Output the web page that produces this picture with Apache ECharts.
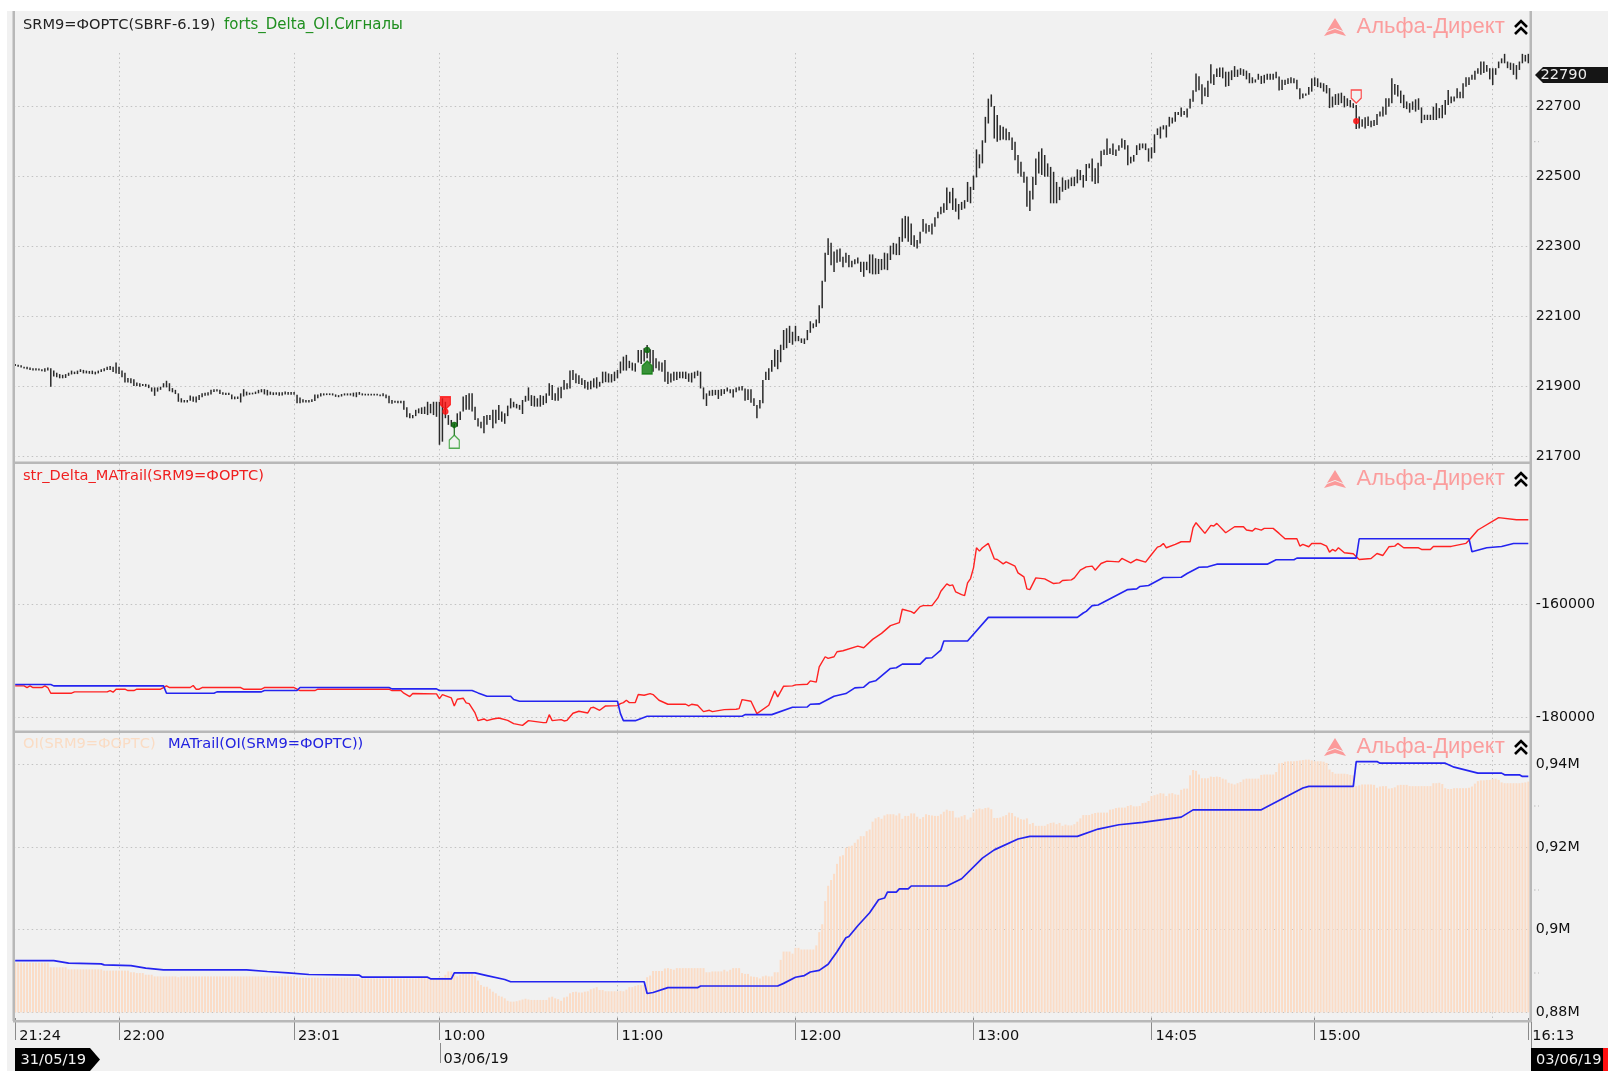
<!DOCTYPE html>
<html><head><meta charset="utf-8">
<script src="https://cdn.jsdelivr.net/npm/echarts@6/dist/echarts.min.js"></script>
<style>html,body{margin:0;padding:0;background:#f1f1f1}#c{width:1608px;height:1071px}</style>
</head><body><div id="c"></div>
<script>
const tickIndex=[0,35,94,143,203,263,323,383,438,510];
const tickLabels=['21:24','22:00','23:01','10:00\n03/06/19','11:00','12:00','13:00','14:05','15:00','16:13'];
const gridIndex=[35,94,143,203,263,323,383,438,498];
const priceTicks=[21700,21900,22100,22300,22500,22700];
const deltaTicks=[-180000,-160000];
const oiTicks=[0.88,0.9,0.92,0.94];
const priceHigh=[
21965,21963,21961,21957,21957,21955,21953,21953,21952,21950,
21953,21955,21953,21946,21940,21936,21934,21936,21940,21946,
21943,21946,21950,21948,21946,21945,21946,21943,21946,21950,
21953,21957,21959,21957,21969,21957,21946,21940,21925,21924,
21921,21912,21910,21908,21908,21906,21898,21898,21898,21900,
21910,21917,21910,21896,21891,21881,21867,21862,21862,21875,
21872,21872,21876,21881,21883,21884,21891,21893,21893,21891,
21884,21883,21883,21878,21872,21872,21881,21893,21886,21883,
21883,21886,21891,21893,21893,21891,21886,21884,21884,21884,
21884,21886,21885,21885,21885,21877,21869,21864,21862,21862,
21864,21878,21878,21881,21881,21881,21881,21881,21878,21876,
21879,21881,21881,21881,21883,21884,21885,21881,21880,21880,
21880,21880,21880,21878,21881,21878,21874,21862,21860,21860,
21860,21860,21841,21824,21819,21834,21838,21841,21843,21857,
21851,21857,21857,21857,21867,21857,21819,21805,21795,21824,
21829,21872,21876,21881,21881,21843,21810,21800,21816,21819,
21819,21834,21834,21848,21829,21824,21846,21867,21857,21851,
21848,21862,21874,21898,21876,21874,21867,21876,21874,21881,
21910,21905,21881,21898,21900,21919,21910,21946,21948,21938,
21933,21924,21919,21914,21917,21924,21927,21914,21943,21943,
21938,21936,21943,21948,21972,21986,21991,21974,21969,21967,
22005,22005,22010,22019,22007,22005,21981,21972,21969,21976,
21943,21938,21943,21943,21943,21943,21943,21938,21940,21943,
21946,21943,21898,21881,21889,21891,21891,21891,21893,21893,
21898,21893,21893,21898,21900,21902,21895,21893,21893,21867,
21848,21862,21919,21943,21953,21976,22007,22005,22020,22062,
22067,22074,22057,22074,22045,22038,22038,22062,22087,22081,
22092,22133,22203,22283,22324,22311,22286,22292,22295,22271,
22283,22276,22260,22264,22269,22257,22257,22257,22278,22278,
22267,22265,22265,22283,22281,22303,22311,22309,22328,22381,
22388,22386,22366,22333,22319,22343,22379,22366,22362,22366,
22384,22400,22414,22424,22469,22457,22468,22438,22422,22428,
22433,22485,22471,22503,22578,22564,22604,22671,22723,22735,
22702,22676,22647,22643,22638,22628,22612,22600,22562,22543,
22514,22500,22460,22500,22552,22571,22581,22562,22538,22528,
22514,22485,22471,22498,22490,22492,22498,22500,22521,22519,
22505,22536,22538,22552,22524,22540,22574,22578,22609,22581,
22595,22578,22590,22609,22605,22590,22557,22562,22590,22595,
22595,22595,22581,22584,22621,22638,22643,22647,22647,22671,
22669,22685,22685,22698,22688,22695,22723,22747,22795,22787,
22764,22755,22774,22821,22793,22809,22812,22812,22800,22800,
22804,22816,22806,22810,22807,22803,22796,22784,22778,22794,
22788,22791,22794,22794,22794,22800,22786,22777,22777,22781,
22784,22781,22777,22753,22738,22738,22756,22781,22784,22781,
22769,22767,22762,22753,22729,22736,22738,22740,22731,22724,
22719,22710,22705,22672,22664,22670,22672,22660,22662,22679,
22686,22700,22724,22724,22781,22765,22762,22746,22734,22715,
22710,22715,22721,22724,22698,22677,22677,22677,22700,22710,
22696,22705,22719,22748,22729,22729,22753,22743,22767,22784,
22784,22791,22803,22810,22829,22829,22819,22810,22810,22810,
22829,22838,22851,22829,22826,22824,22819,22829,22851,22848,22851];
const priceLow=[
21959,21957,21955,21952,21950,21948,21946,21946,21946,21944,
21943,21946,21900,21929,21927,21924,21924,21925,21931,21935,
21936,21936,21942,21938,21938,21937,21936,21935,21938,21942,
21944,21948,21948,21942,21938,21936,21927,21912,21912,21910,
21902,21902,21900,21902,21900,21896,21886,21874,21886,21891,
21898,21898,21887,21884,21879,21857,21855,21855,21855,21860,
21857,21855,21862,21870,21874,21875,21878,21885,21886,21879,
21877,21876,21876,21864,21864,21865,21855,21872,21875,21877,
21878,21879,21881,21884,21878,21875,21877,21876,21877,21874,
21875,21878,21877,21877,21877,21853,21853,21855,21855,21855,
21856,21859,21867,21872,21875,21876,21876,21875,21871,21870,
21872,21875,21875,21875,21872,21870,21877,21875,21875,21875,
21875,21875,21875,21873,21873,21867,21853,21851,21854,21853,
21853,21834,21813,21810,21810,21816,21824,21822,21822,21819,
21824,21819,21814,21734,21743,21810,21791,21786,21781,21786,
21805,21829,21834,21834,21829,21805,21786,21781,21767,21791,
21805,21781,21795,21805,21800,21794,21816,21838,21841,21838,
21834,21822,21857,21860,21845,21843,21843,21843,21848,21853,
21874,21862,21860,21860,21867,21891,21893,21895,21919,21910,
21908,21905,21895,21891,21893,21898,21895,21900,21910,21913,
21912,21912,21916,21924,21938,21946,21946,21953,21946,21943,
21969,21965,21972,21981,21967,21943,21953,21946,21943,21914,
21908,21912,21917,21919,21924,21924,21922,21914,21912,21924,
21931,21895,21864,21845,21874,21874,21876,21865,21874,21879,
21886,21881,21869,21884,21889,21889,21860,21862,21854,21845,
21810,21838,21853,21919,21919,21943,21957,21950,21970,22005,
22010,22025,22020,22030,22030,22025,22022,22033,22054,22067,
22071,22081,22124,22200,22276,22247,22228,22254,22257,22241,
22254,22241,22241,22250,22252,22228,22214,22233,22224,22221,
22221,22222,22233,22235,22233,22262,22278,22276,22276,22314,
22324,22314,22305,22300,22295,22309,22343,22338,22343,22335,
22357,22381,22393,22397,22405,22424,22405,22400,22378,22405,
22409,22428,22424,22462,22498,22524,22538,22597,22652,22700,
22609,22600,22604,22606,22604,22604,22576,22547,22509,22500,
22483,22414,22402,22435,22476,22509,22505,22500,22500,22424,
22424,22424,22433,22457,22462,22466,22473,22473,22481,22490,
22469,22488,22524,22486,22479,22481,22530,22562,22562,22565,
22562,22559,22574,22583,22578,22533,22538,22543,22562,22576,
22581,22576,22543,22552,22568,22619,22609,22635,22612,22643,
22652,22657,22676,22671,22676,22669,22695,22714,22743,22747,
22707,22730,22728,22766,22762,22785,22785,22781,22757,22759,
22776,22785,22785,22791,22788,22778,22767,22767,22769,22777,
22765,22767,22777,22777,22777,22781,22746,22748,22762,22765,
22767,22767,22750,22721,22724,22731,22734,22743,22759,22756,
22753,22743,22738,22696,22698,22705,22705,22710,22698,22702,
22698,22696,22636,22638,22643,22638,22645,22641,22645,22648,
22672,22672,22677,22700,22710,22734,22729,22710,22696,22693,
22683,22691,22686,22691,22653,22662,22662,22662,22662,22662,
22667,22667,22677,22705,22710,22715,22724,22724,22724,22757,
22762,22777,22777,22794,22791,22796,22800,22778,22762,22791,
22810,22824,22824,22810,22805,22791,22778,22805,22824,22829,22824];
const openInterest=[
.892,.892,.892,.892,.892,.892,.892,.892,.892,.892,
.892,.892,.8909,.8909,.8909,.8909,.8909,.8909,.8904,.8904,
.8904,.8904,.8904,.8904,.8904,.8904,.8904,.8904,.8904,.8904,
.8901,.8901,.8901,.8901,.8901,.8901,.8901,.8901,.8901,.8897,
.8897,.8895,.8895,.8895,.8891,.8891,.8891,.8887,.8887,.8887,
.8887,.8887,.8887,.8887,.8887,.8885,.8887,.8887,.8887,.8887,
.8887,.8887,.8887,.8887,.8887,.8887,.8887,.8887,.8887,.8887,
.8887,.8887,.8887,.8887,.8887,.8887,.8887,.8887,.8887,.8887,
.8887,.8887,.8887,.8887,.8887,.8887,.8887,.8887,.8887,.8887,
.8887,.8887,.8887,.8887,.8887,.8884,.8884,.8884,.8884,.8884,
.8884,.8884,.8884,.8884,.8884,.8884,.8884,.8884,.8884,.8884,
.8884,.8884,.8884,.8884,.8884,.8884,.8882,.8882,.8882,.8882,
.8882,.8882,.8882,.8882,.8882,.8882,.8882,.8882,.8882,.8882,
.8882,.8882,.8882,.8882,.8882,.8882,.8883,.8883,.8883,.8883,
.8883,.8883,.8883,.8885,.8885,.8891,.8899,.8899,.8891,.8887,
.8891,.8893,.8893,.8893,.8893,.8888,.8877,.8866,.8862,.8862,
.8857,.885,.8846,.884,.8838,.8834,.8828,.8826,.8826,.8827,
.8829,.8831,.8833,.8831,.883,.883,.883,.883,.883,.883,
.8836,.8838,.8834,.8832,.8828,.8836,.8838,.8846,.8849,.885,
.8848,.8848,.885,.8851,.8856,.8858,.8861,.8854,.8854,.8851,
.8851,.8851,.8851,.8851,.8852,.8851,.8855,.8861,.8861,.8864,
.8866,.8866,.8866,.8885,.8889,.89,.89,.89,.89,.8906,
.8907,.8905,.8903,.8907,.8907,.8907,.8907,.8907,.8907,.8907,
.8907,.8907,.8907,.8897,.8897,.8899,.8899,.8899,.8899,.8903,
.8899,.8903,.8907,.8907,.8907,.8895,.8893,.8893,.8887,.8886,
.8885,.8882,.8887,.8889,.8887,.8887,.8897,.8897,.8927,.8947,
.8947,.8947,.8942,.8956,.8956,.8952,.8952,.8952,.8952,.8952,
.8962,.8994,.9013,.9069,.9106,.912,.9135,.9159,.9177,.918,
.9198,.9201,.9203,.921,.9218,.9226,.9226,.9238,.9242,.9261,
.9269,.9272,.9268,.9276,.9279,.9279,.9279,.9276,.9281,.9268,
.9275,.9275,.9281,.9281,.9273,.9268,.9272,.9279,.9277,.9276,
.9275,.9275,.9279,.9285,.929,.9287,.9287,.9271,.9271,.9274,
.9277,.9266,.9271,.9283,.9291,.9293,.9291,.9294,.9295,.9291,
.927,.927,.9271,.9274,.9277,.9283,.9282,.9274,.9271,.9267,
.9266,.9269,.9255,.9258,.9251,.9251,.9251,.9251,.9255,.9258,
.9259,.9255,.9258,.9251,.9254,.9252,.9252,.9255,.9261,.9269,
.9277,.9277,.9277,.928,.9282,.9283,.9283,.9283,.9283,.929,
.9291,.9294,.9295,.9295,.9295,.9299,.9301,.9298,.9298,.9299,
.9306,.9307,.9311,.9323,.9325,.9327,.933,.9329,.9323,.9329,
.933,.9327,.9326,.9338,.9341,.9341,.9373,.9386,.9384,.9375,
.9366,.9366,.9366,.937,.9369,.937,.9369,.9365,.9363,.9355,
.9353,.9351,.9354,.9357,.9363,.9365,.9365,.9365,.9365,.9365,
.9374,.9375,.9375,.9375,.9375,.9381,.9402,.9403,.9406,.9407,
.9407,.9407,.9408,.9409,.941,.9411,.9411,.9409,.9407,.9407,
.9407,.9406,.9403,.9387,.9381,.9377,.9377,.9377,.9377,.9376,
.9374,.9373,.9347,.9349,.9351,.9351,.9351,.9351,.935,.9343,
.9346,.9347,.9347,.9341,.9342,.9344,.9349,.935,.935,.935,
.9347,.9347,.9347,.9347,.9347,.9347,.9347,.9347,.9354,.9354,
.9355,.9352,.9342,.934,.934,.9342,.9342,.9342,.9342,.9342,
.9343,.9346,.9353,.9359,.9361,.9361,.9362,.9362,.9364,.9365,
.9362,.9356,.9354,.9354,.9354,.9354,.9354,.9354,.9355,.9356,.9358];
const deltaLine=[[0,-174435],[3,-174435],[4,-174731],[5,-174435],[6,-174731],[9,-174731],[10,-174435],[11,-174731],[12,-175738],[19,-175738],[20,-175501],[31,-175501],[32,-175264],[33,-175560],[34,-175027],[37,-175027],[38,-175264],[40,-175264],[41,-175027],[49,-175027],[50,-174731],[51,-174435],[52,-174731],[59,-174731],[60,-174376],[61,-175027],[62,-175027],[63,-174731],[76,-174731],[77,-175027],[83,-175027],[84,-174731],[94,-174731],[96,-175264],[101,-175264],[102,-175027],[126,-175027],[127,-175264],[130,-175264],[131,-175738],[133,-176330],[134,-175797],[142,-175856],[143,-176685],[144,-175974],[147,-176566],[148,-177987],[149,-176803],[151,-176626],[152,-177454],[153,-177573],[155,-179230],[156,-180592],[158,-180296],[159,-180592],[161,-180296],[163,-180118],[166,-180533],[168,-181125],[171,-181421],[173,-180592],[178,-180947],[179,-180947],[180,-179526],[181,-180592],[184,-180414],[185,-180651],[186,-180533],[188,-179290],[190,-178934],[193,-179230],[194,-178342],[195,-178224],[197,-178757],[199,-177987],[203,-177928],[204,-177573],[205,-177395],[206,-176981],[207,-177395],[209,-177395],[210,-175974],[212,-176093],[214,-175797],[215,-175974],[217,-176981],[220,-177691],[226,-177691],[227,-177987],[228,-177691],[230,-177869],[232,-178994],[234,-178757],[235,-178994],[239,-178638],[243,-178579],[244,-178461],[245,-176862],[248,-177158],[250,-179349],[254,-177869],[256,-175323],[257,-176389],[259,-174494],[262,-174435],[263,-174258],[267,-174139],[268,-173547],[270,-173784],[271,-171061],[273,-169285],[274,-169581],[276,-169285],[277,-168397],[279,-168219],[284,-167390],[286,-167686],[289,-166206],[292,-165141],[295,-163779],[298,-163246],[299,-160878],[302,-161293],[303,-161589],[305,-160405],[306,-160237],[309,-160237],[311,-158875],[312,-157691],[314,-156389],[315,-156685],[316,-156566],[317,-157810],[319,-158283],[320,-158461],[321,-156211],[322,-155442],[323,-153547],[324,-149995],[325,-150587],[326,-149995],[328,-149226],[330,-151949],[331,-152067],[333,-152837],[334,-152482],[337,-153251],[338,-154435],[340,-155146],[341,-157277],[342,-157395],[344,-155323],[347,-155501],[350,-156330],[352,-156211],[353,-155797],[356,-155678],[357,-155323],[359,-153962],[361,-153370],[363,-153251],[364,-153962],[366,-152778],[368,-152363],[372,-152482],[373,-151890],[376,-152659],[378,-152067],[381,-152541],[383,-151180],[385,-149877],[386,-149700],[387,-149226],[388,-149995],[391,-149403],[393,-148930],[396,-148930],[397,-146443],[398,-145555],[401,-147450],[403,-146029],[404,-146147],[405,-145674],[408,-147331],[411,-146266],[414,-146266],[415,-146858],[417,-147035],[418,-146562],[420,-146858],[421,-146562],[424,-146562],[426,-147450],[428,-148397],[432,-148397],[433,-149700],[434,-149403],[436,-149818],[437,-149226],[440,-149226],[442,-149700],[443,-150765],[444,-150292],[445,-150587],[446,-149995],[448,-150883],[451,-151061],[453,-152067],[457,-151890],[459,-151002],[461,-151357],[463,-149818],[465,-149700],[466,-149226],[468,-149995],[473,-149995],[474,-150292],[477,-150292],[478,-149758],[484,-149758],[489,-149210],[490,-148658],[493,-146850],[500,-144666],[506,-145037],[510,-145037]];
const deltaTrail=[[0,-174198],[12,-174198],[13,-174435],[50,-174435],[51,-175738],[67,-175738],[68,-175501],[83,-175501],[84,-175264],[95,-175264],[96,-174731],[126,-174731],[127,-174968],[142,-174968],[143,-175264],[154,-175264],[156,-175678],[159,-176270],[167,-176270],[168,-176862],[170,-177158],[203,-177158],[204,-179349],[205,-180592],[209,-180592],[213,-179822],[245,-179822],[246,-179526],[255,-179526],[262,-178224],[267,-178165],[268,-177691],[271,-177632],[276,-176270],[280,-175797],[283,-174790],[286,-174672],[288,-173784],[290,-173547],[295,-171357],[297,-171238],[299,-170587],[305,-170587],[307,-169522],[309,-169462],[312,-168101],[313,-166500],[321,-166500],[328,-162309],[358,-162309],[360,-161539],[361,-161243],[363,-160237],[365,-160118],[375,-157395],[378,-157277],[379,-156862],[382,-156685],[387,-155264],[393,-155205],[395,-154554],[399,-153429],[402,-153370],[405,-152896],[422,-152896],[425,-152126],[431,-152126],[432,-151830],[452,-151830],[453,-148397],[490,-148397],[491,-150700],[496,-150000],[501,-149758],[505,-149240],[510,-149240]];
const oiTrail=[[0,.89253],[13,.89253],[18,.89189],[29,.89172],[30,.89148],[39,.89132],[44,.89068],[50,.89028],[78,.89028],[85,.88988],[92,.88956],[99,.88916],[116,.88899],[117,.88851],[139,.88851],[140,.88811],[147,.88811],[148,.88953],[155,.88953],[159,.8889],[165,.88795],[167,.8874],[212,.8874],[213,.88457],[215,.8848],[220,.88598],[230,.88598],[231,.88638],[257,.88638],[259,.88701],[263,.8885],[266,.8889],[268,.88976],[271,.89016],[274,.89165],[277,.89465],[280,.89803],[281,.89835],[284,.90095],[288,.90409],[291,.90724],[293,.90764],[294,.90906],[297,.90906],[298,.90984],[301,.90984],[302,.91055],[314,.91055],[319,.9123],[326,.91728],[330,.91928],[338,.92192],[342,.92256],[358,.92256],[365,.92432],[372,.92536],[380,.92592],[393,.9272],[397,.92896],[420,.92896],[434,.93424],[436,.93464],[451,.93464],[452,.94064],[459,.94064],[460,.94024],[482,.94024],[485,.93928],[493,.93784],[501,.93784],[502,.93744],[507,.93744],[508,.93704],[510,.93704]];
const sellSignal=[[145,21853]];
const sellOpen=[[452,22729]];
const buyFilled=[[213,21955]];
const buyOpen=[[148,21743]];
const redDots=[[145,21829],[452,22659]];
const greenDots=[[148,21791],[213,22005]];
const buyStem=[[148,21791],[148,21760]];
const lastPrice=22790;

const N=priceHigh.length;
const FONT='"DejaVu Sans"';
const categories=priceHigh.map((_,i)=>String(i));
const isTick=i=>tickIndex.includes(i);
const isGrid=i=>gridIndex.includes(i);
const dot={color:'#c2c2c2',type:[1.5,3],width:1};
const gridPos=[{top:53,height:409},{top:464,height:267},{top:733,height:288}];
const grids=gridPos.map(g=>({left:13.7,width:1516.1,top:g.top,height:g.height,containLabel:false}));
const xAxes=[0,1,2].map(k=>({type:'category',gridIndex:k,data:categories,boundaryGap:true,
  axisLine:{show:false},
  axisTick:{show:k===2,length:22,alignWithLabel:true,interval:(i)=>isTick(i),lineStyle:{color:'#8a8a8a'}},
  splitLine:{show:true,alignWithLabel:true,interval:(i)=>isGrid(i),lineStyle:dot},
  axisLabel:{show:k===2,interval:(i)=>isTick(i),align:'left',verticalAlign:'top',margin:7,padding:[0,0,0,4],
    lineHeight:23,color:'#111',fontFamily:FONT,fontSize:14.5,
    formatter:(v,i)=>{const p=tickIndex.indexOf(+v);return p<0?'':tickLabels[p];}}}));
const yAxis=(k,min,max,ticks,fmt,pad)=>({type:'value',gridIndex:k,position:'right',min,max,scale:true,
  axisLine:{show:false},axisTick:{show:false,customValues:ticks},
  splitLine:{show:true,lineStyle:dot},
  axisLabel:{customValues:ticks,margin:6,padding:[pad,0,0,0],color:'#111',fontFamily:FONT,fontSize:14.2,formatter:fmt,showMinLabel:true,showMaxLabel:true}});
const renderHL=(p,api)=>{const a=api.coord([api.value(0),api.value(1)]),b=api.coord([api.value(0),api.value(2)]);
  return {type:'line',shape:{x1:a[0],y1:a[1],x2:b[0],y2:b[1]},style:{stroke:'#2a2a2a',lineWidth:1.5}};};
const renderOI=(p,api)=>{const a=api.coord([api.value(0),api.value(1)]),b=api.coord([api.value(0),oiTicks[0]]);
  return {type:'rect',shape:{x:a[0]-1,y:a[1],width:2,height:b[1]-a[1]},style:{fill:'#fbdcc6'}};};
const house='path://M5,0 L10,5 L10,13 L0,13 L0,5 Z';
const shield='path://M0,0 L10,0 L10,8 L5,13 L0,8 Z';
const mark=(d,sym,fill,stroke)=>({type:'scatter',xAxisIndex:0,yAxisIndex:0,data:d,symbol:sym,symbolSize:sym==='circle'?5:[10,13],
  itemStyle:{color:fill,borderColor:stroke,borderWidth:1.3},z:6,silent:true});
const line=(d,c,k,w)=>({type:'line',xAxisIndex:k,yAxisIndex:k,data:d,showSymbol:false,lineStyle:{color:c,width:w},itemStyle:{color:c},z:5,silent:true});

const gfx=[];
const rect=(x,y,w,h,fill,z)=>gfx.push({type:'rect',shape:{x,y,width:w,height:h},style:{fill},z:z||20,silent:true});
const text=(x,y,t,fill,font)=>gfx.push({type:'text',x,y,style:{text:t,fill,font:font||('14.6px '+FONT),textVerticalAlign:'middle',textAlign:'left'},z:30,silent:true});
const poly=(pts,fill)=>gfx.push({type:'polygon',shape:{points:pts},style:{fill},z:25,silent:true});
const pl=(pts,stroke,w)=>gfx.push({type:'polyline',shape:{points:pts},style:{stroke,lineWidth:w,fill:null},z:25,silent:true});
rect(0,0,1608,11,'#ffffff',1);rect(0,0,7,1071,'#ffffff',1);
const AX='#b8b8b8';
rect(12.5,11,2.5,1010,AX);rect(1529.5,11,2.5,1011,AX);
rect(13,461.5,1518,2.5,AX);rect(13,730.5,1518,2.5,AX);rect(13,1020,1518,2.5,AX);
[0,452,720].forEach(d=>{
  poly([[1335,18+d],[1343,31+d],[1335,28+d],[1327,31+d]],'#fb9a9a');
  poly([[1324,36+d],[1327,32+d],[1335,29+d],[1343,32+d],[1346,36+d],[1335,33+d]],'#fb9a9a');
  text(1356.5,27+d,'Альфа-Директ','#fb9d9d','22px "Liberation Sans"');
  pl([[1515,27+d],[1521,21+d],[1527,27+d]],'#000',2.6);
  pl([[1515,34+d],[1521,28+d],[1527,34+d]],'#000',2.6);
});
text(23,25,'SRM9=ФОРТС(SBRF-6.19)','#222');
text(224,25,'forts_Delta_OI.Сигналы','#1f8f1f','15px '+FONT);
text(23,476,'str_Delta_MATrail(SRM9=ФОРТС)','#f02020');
text(23,744,'OI(SRM9=ФОРТС)','#fadcc4');
text(168,744,'MATrail(OI(SRM9=ФОРТС))','#2222e0');
poly([[1535,75],[1543,67],[1608,67],[1608,83],[1543,83]],'#151515');
text(1540.5,75.5,String(lastPrice),'#eeeeee');
poly([[15,1048],[90,1048],[100,1059.5],[90,1071],[15,1071]],'#000');
text(20.5,1060,'31/05/19','#f2f2f2');
rect(1531,1048,72,23,'#000');rect(1603,1048,5,23,'#ff1010');
text(1536,1060,'03/06/19','#f2f2f2');
rect(1531,1022,1,26,'#8a8a8a');
rect(440,1043,1,20,'#8a8a8a');
[141.7,806,890,973].forEach(y=>gfx.push({type:'line',shape:{x1:1534,y1:y,x2:1539,y2:y},style:{stroke:'#bbb',lineDash:[1.5,2.5]},z:20,silent:true}));

const chart=echarts.init(document.getElementById('c'),null,{renderer:'canvas'});
chart.setOption({
  animation:false,backgroundColor:'#f1f1f1',
  grid:grids,xAxis:xAxes,
  yAxis:[
    yAxis(0,21684.9,22853.4,priceTicks,v=>String(v),2),
    yAxis(1,-182425,-135167,deltaTicks,v=>String(v),2),
    yAxis(2,0.87864,0.94754,oiTicks,v=>String(v).replace('.',',')+'M',4)],
  series:[
    {type:'custom',xAxisIndex:0,yAxisIndex:0,renderItem:renderHL,encode:{x:0,y:[1,2]},z:3,silent:true,
     data:priceHigh.map((h,i)=>[i,h,priceLow[i]])},
    line(buyStem,'#1a6a1a',0,1.2),
    mark(sellSignal,shield,'#ff1010','#ff1010'),
    mark(sellOpen,shield,'#f1f1f1','#ff2020'),
    mark(buyFilled,house,'#0a7a0a','#0a7a0a'),
    mark(buyOpen,house,'#f1f1f1','#2a9a2a'),
    mark(redDots,'circle','#ff1010','#ff1010'),
    mark(greenDots,'circle','#0a6a0a','#0a6a0a'),
    line(deltaLine,'#ff2222',1,1.4),
    line(deltaTrail,'#2424f0',1,1.6),
    {type:'custom',xAxisIndex:2,yAxisIndex:2,renderItem:renderOI,encode:{x:0,y:1},z:2,silent:true,
     data:openInterest.map((v,i)=>[i,v])},
    line(oiTrail,'#2424f0',2,1.7)
  ],
  graphic:{elements:gfx}
});
</script></body></html>
